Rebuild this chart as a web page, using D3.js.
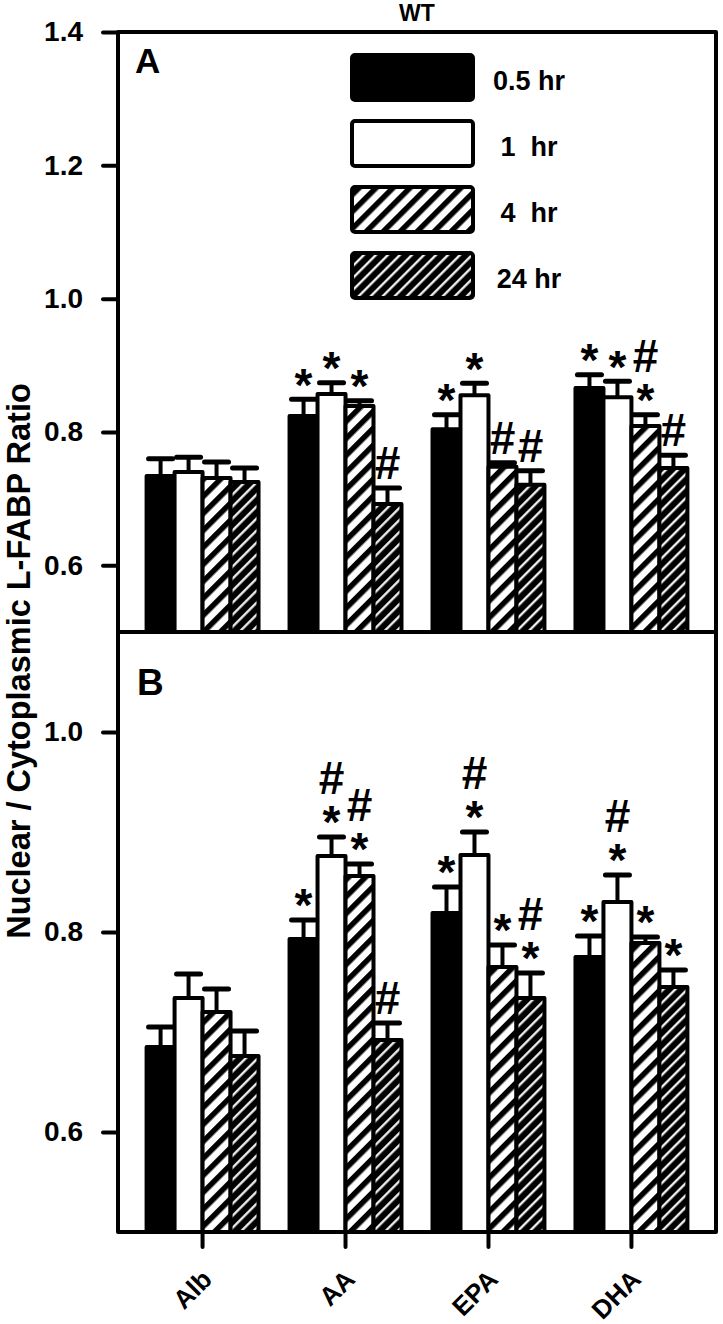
<!DOCTYPE html>
<html><head><meta charset="utf-8">
<script src="https://cdn.jsdelivr.net/npm/d3@7"></script>
<style>html,body{margin:0;padding:0;background:#fff;} svg{display:block;} text{font-family:"Liberation Sans",Arial,sans-serif;font-weight:bold;fill:#000;}</style>
</head><body><div id="chart"></div>
<script>
const categories = ["Alb", "AA", "EPA", "DHA"];
const seriesNames = ["0.5 hr", "1  hr", "4  hr", "24 hr"];
const title = "WT";
const yTitle = "Nuclear / Cytoplasmic L-FABP Ratio";
const ticksA = [0.6, 0.8, 1.0, 1.2, 1.4];
const ticksB = [0.6, 0.8, 1.0];

// Panel A means / SEM per series (rows: 0.5, 1, 4, 24 hr)
const meansA_05 = [0.734, 0.824, 0.804, 0.866];
const meansA_1  = [0.740, 0.857, 0.855, 0.852];
const meansA_4  = [0.731, 0.839, 0.748, 0.809];
const meansA_24 = [0.725, 0.692, 0.721, 0.746];
const errA_05 = [0.026, 0.025, 0.022, 0.020];
const errA_1  = [0.022, 0.017, 0.018, 0.024];
const errA_4  = [0.024, 0.008, 0.006, 0.017];
const errA_24 = [0.021, 0.024, 0.021, 0.019];
const sigA_05 = [[], ["*"], ["*"], ["*"]];
const sigA_1  = [[], ["*"], ["*"], ["*"]];
const sigA_4  = [[], ["*"], ["#"], ["#", "*"]];
const sigA_24 = [[], ["#"], ["#"], ["#"]];

// Panel B
const meansB_05 = [0.685, 0.793, 0.819, 0.775];
const meansB_1  = [0.734, 0.876, 0.877, 0.830];
const meansB_4  = [0.720, 0.856, 0.765, 0.789];
const meansB_24 = [0.676, 0.692, 0.734, 0.745];
const errB_05 = [0.020, 0.019, 0.026, 0.021];
const errB_1  = [0.024, 0.019, 0.023, 0.027];
const errB_4  = [0.023, 0.012, 0.022, 0.006];
const errB_24 = [0.025, 0.017, 0.025, 0.017];
const sigB_05 = [[], ["*"], ["*"], ["*"]];
const sigB_1  = [[], ["#", "*"], ["#", "*"], ["#", "*"]];
const sigB_4  = [[], ["#", "*"], ["*"], ["*"]];
const sigB_24 = [[], ["#"], ["#", "*"], ["*"]];

const W = 723, H = 1324;
const left = 118, right = 716;
const svg = d3.select("#chart").append("svg").attr("width", W).attr("height", H);

const defs = svg.append("defs");
const p4 = defs.append("pattern").attr("id", "h4").attr("patternUnits", "userSpaceOnUse")
  .attr("width", 12).attr("height", 12).attr("patternTransform", "rotate(45)");
p4.append("rect").attr("width", 12).attr("height", 12).attr("fill", "#fff");
p4.append("rect").attr("width", 5.5).attr("height", 12).attr("fill", "#000");
const p24 = defs.append("pattern").attr("id", "h24").attr("patternUnits", "userSpaceOnUse")
  .attr("width", 8.5).attr("height", 8.5).attr("patternTransform", "rotate(45)");
p24.append("rect").attr("width", 8.5).attr("height", 8.5).attr("fill", "#000");
p24.append("rect").attr("x", 3).attr("width", 2.2).attr("height", 8.5).attr("fill", "#fff");
const fills = ["#000", "#fff", "url(#h4)", "url(#h24)"];

const x0 = d3.scaleBand().domain(categories).range([left, right]).paddingInner(0.217).paddingOuter(0.2);
const x1 = d3.scaleBand().domain(seriesNames).range([0, x0.bandwidth()]);

const panels = [
  {y: d3.scaleLinear().domain([0.5, 1.4]).range([632, 32]), ticks: ticksA, label: "A", lx: 135, ly: 73, lfs: 35,
   means: [meansA_05, meansA_1, meansA_4, meansA_24], errs: [errA_05, errA_1, errA_4, errA_24], sigs: [sigA_05, sigA_1, sigA_4, sigA_24]},
  {y: d3.scaleLinear().domain([0.5, 1.1]).range([1232, 632]), ticks: ticksB, label: "B", lx: 137, ly: 695, lfs: 37,
   means: [meansB_05, meansB_1, meansB_4, meansB_24], errs: [errB_05, errB_1, errB_4, errB_24], sigs: [sigB_05, sigB_1, sigB_4, sigB_24]}
];

panels.forEach(p => {
  const g = svg.append("g");
  const y0 = p.y.range()[0];
  seriesNames.forEach((s, si) => {
    categories.forEach((c, ci) => {
      const v = p.means[si][ci];
      const bx = x0(c) + x1(s), bw = x1.bandwidth();
      g.append("rect").attr("x", bx).attr("y", p.y(v)).attr("width", bw).attr("height", y0 - p.y(v))
        .attr("fill", fills[si]).attr("stroke", "#000").attr("stroke-width", 4).attr("stroke-linejoin", "round");
    });
  });
  seriesNames.forEach((s, si) => {
    categories.forEach((c, ci) => {
      const v = p.means[si][ci], e = p.errs[si][ci];
      const cx = x0(c) + x1(s) + x1.bandwidth() / 2;
      g.append("line").attr("x1", cx).attr("x2", cx).attr("y1", p.y(v)).attr("y2", p.y(v + e))
        .attr("stroke", "#000").attr("stroke-width", 4);
      g.append("line").attr("x1", cx - 12).attr("x2", cx + 12).attr("y1", p.y(v + e)).attr("y2", p.y(v + e))
        .attr("stroke", "#000").attr("stroke-width", 5).attr("stroke-linecap", "round");
      const lines = p.sigs[si][ci];
      const capY = p.y(v + e);
      lines.slice().reverse().forEach((sym, k) => {
        const center = capY - 25 - k * 34;
        const fs = 46;
        const base = sym === "*" ? center + 0.57 * fs : center + 0.35 * fs;
        g.append("text").attr("x", cx).attr("y", base).attr("text-anchor", "middle")
          .style("font-size", fs + "px").text(sym);
      });
    });
  });
  // frame
  g.append("rect").attr("x", left).attr("y", p.y.range()[1]).attr("width", right - left)
    .attr("height", y0 - p.y.range()[1]).attr("fill", "none").attr("stroke", "#000")
    .attr("stroke-width", 4).attr("stroke-linejoin", "round");
  // y axis ticks
  const ax = d3.axisLeft(p.y).tickValues(p.ticks).tickFormat(d3.format(".1f")).tickSize(15).tickPadding(20);
  const ag = svg.append("g").attr("transform", `translate(${left},0)`).call(ax);
  ag.select(".domain").remove();
  ag.selectAll(".tick line").attr("stroke", "#000").attr("stroke-width", 4).attr("stroke-linecap", "round");
  ag.selectAll(".tick text").style("font-size", "28px").style("font-family", "'Liberation Sans',Arial,sans-serif")
    .style("font-weight", "bold").attr("fill", "#000");
  svg.append("text").attr("x", p.lx).attr("y", p.ly).style("font-size", p.lfs + "px").text(p.label);
});

// bottom category axis
const xb = d3.axisBottom(x0).tickSize(15).tickFormat("");
const xg = svg.append("g").attr("transform", "translate(0,1232)").call(xb);
xg.select(".domain").remove();
xg.selectAll(".tick line").attr("stroke", "#000").attr("stroke-width", 4).attr("stroke-linecap", "round");
categories.forEach(c => {
  const cx = x0(c) + x0.bandwidth() / 2;
  svg.append("text").attr("transform", `translate(${cx + 11},${1281}) rotate(-45)`)
    .attr("text-anchor", "end").style("font-size", "26px").text(c);
});

// title
svg.append("text").attr("x", (left + right) / 2).attr("y", 21).attr("text-anchor", "middle").style("font-size", "23px").text(title);
svg.append("text").attr("transform", `translate(30,661) rotate(-90)`).attr("text-anchor", "middle")
  .style("font-size", "32.5px").text(yTitle);

// legend
const legTops = [55, 121, 187, 253];
seriesNames.forEach((s, i) => {
  svg.append("rect").attr("x", 352).attr("y", legTops[i]).attr("width", 121).attr("height", 45)
    .attr("rx", 3).attr("fill", fills[i]).attr("stroke", "#000").attr("stroke-width", 4);
  svg.append("text").attr("x", 529).attr("y", legTops[i] + 22.5 + 12).attr("text-anchor", "middle")
    .attr("xml:space", "preserve").style("white-space", "pre").style("font-size", "27px").text(s);
});
</script></body></html>
